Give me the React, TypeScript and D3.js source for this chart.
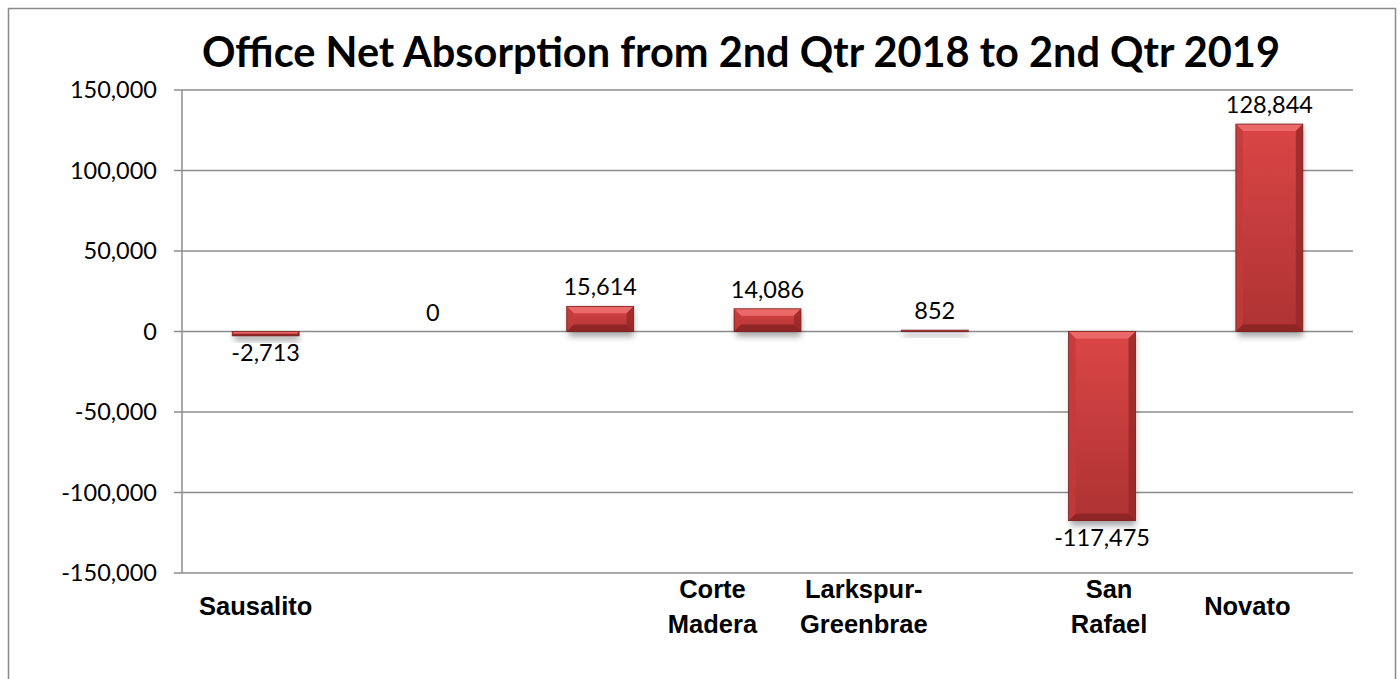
import React from "react";
import * as d3 from "d3";

const categories = ["Sausalito", "", "", "Corte\nMadera", "Larkspur-\nGreenbrae", "San\nRafael", "Novato"];
const values = [-2713, 0, 15614, 14086, 852, -117475, 128844];
const yTicks = [-150000, -100000, -50000, 0, 50000, 100000, 150000];
const title = "Office Net Absorption from 2nd Qtr 2018 to 2nd Qtr 2019";

// layout constants
const W = 1400, H = 679;
const plot = { left: 182, right: 1353, top: 90, bottom: 573 };
const labelNudge = [-10, 0, 0, -55, -71, 7, -22];

const fmt = (v: number) => d3.format(",")(v).replace("\u2212", "-");

export default function App() {
  const x = d3.scaleBand<number>().domain(d3.range(values.length)).range([plot.left, plot.right]).paddingInner(0.6).paddingOuter(0.3);
  const y = d3.scaleLinear().domain([-150000, 150000]).range([plot.bottom, plot.top]);
  const bw = x.bandwidth();
  const y0 = y(0);

  return (
    <svg width={W} height={H} style={{ position: "absolute", left: 0, top: 0, background: "#fff" }}>
      <defs>
        <linearGradient id="barG" x1="0" y1="0" x2="0" y2="1">
          <stop offset="0" stopColor="#DB4646" />
          <stop offset="1" stopColor="#AE3232" />
        </linearGradient>
        <filter id="shadow" x="-30%" y="-30%" width="160%" height="160%">
          <feGaussianBlur stdDeviation="3" />
        </filter>
      </defs>
      <rect x={8.5} y={8.5} width={1387} height={700} fill="#fff" stroke="#8a8a8a" strokeWidth={1.5} />
      <text x={741} y={67} textAnchor="middle" fontFamily="Lato, 'Open Sans', sans-serif" fontWeight={700} fontSize={41.5} fill="#000">{title}</text>

      {yTicks.map((t) => (
        <g key={t}>
          <line x1={plot.left - 8} x2={plot.right} y1={y(t)} y2={y(t)} stroke="#8c8c8c" strokeWidth={1.5} />
          <text x={157} y={y(t) + 8} textAnchor="end" fontFamily="Lato, sans-serif" fontSize={23.5} fill="#000">{fmt(t)}</text>
        </g>
      ))}
      <line x1={plot.left} x2={plot.left} y1={plot.top} y2={plot.bottom} stroke="#8c8c8c" strokeWidth={1.5} />

      {values.map((v, i) => {
        const bx = x(i)!;
        const top = Math.min(y(v), y0);
        const h = Math.abs(y(v) - y0);
        const b = Math.min(7, h / 2, bw / 2);
        if (h <= 0) return null;
        return (
          <g key={i}>
            <rect x={bx + 2} y={top + 3} width={bw - 2} height={h + 2} fill="#000" opacity={0.35} filter="url(#shadow)" />
            <rect x={bx} y={top} width={bw} height={h} fill="url(#barG)" />
            <polygon points={`${bx},${top} ${bx + bw},${top} ${bx + bw - b},${top + b} ${bx + b},${top + b}`} fill="#EF7070" opacity={0.85} />
            <polygon points={`${bx},${top} ${bx + b},${top + b} ${bx + b},${top + h - b} ${bx},${top + h}`} fill="#C23B3B" opacity={0.8} />
            <polygon points={`${bx + bw},${top} ${bx + bw - b},${top + b} ${bx + bw - b},${top + h - b} ${bx + bw},${top + h}`} fill="#962828" opacity={0.8} />
            <polygon points={`${bx},${top + h} ${bx + b},${top + h - b} ${bx + bw - b},${top + h - b} ${bx + bw},${top + h}`} fill="#862222" opacity={0.8} />
            <rect x={bx} y={top} width={bw} height={h} fill="none" stroke="#7a1f1f" strokeWidth={0.8} />
          </g>
        );
      })}

      {values.map((v, i) => (
        <text key={i} x={x(i)! + bw / 2} y={v < 0 ? y(v) + 25 : y(v) - 11} textAnchor="middle" fontFamily="Lato, sans-serif" fontSize={23.5} fill="#000">
          {fmt(v)}
        </text>
      ))}

      {categories.map((c, i) => {
        const lines = c ? c.split("\n") : [];
        const cx = x(i)! + bw / 2 + labelNudge[i];
        return (
          <text key={i} x={cx} textAnchor="middle" fontFamily="'Liberation Sans', Arial, sans-serif" fontWeight={700} fontSize={25.5} fill="#000">
            {lines.map((l, k) => (
              <tspan key={k} x={cx} y={lines.length === 1 ? 615 : 598 + k * 35}>{l}</tspan>
            ))}
          </text>
        );
      })}
    </svg>
  );
}
